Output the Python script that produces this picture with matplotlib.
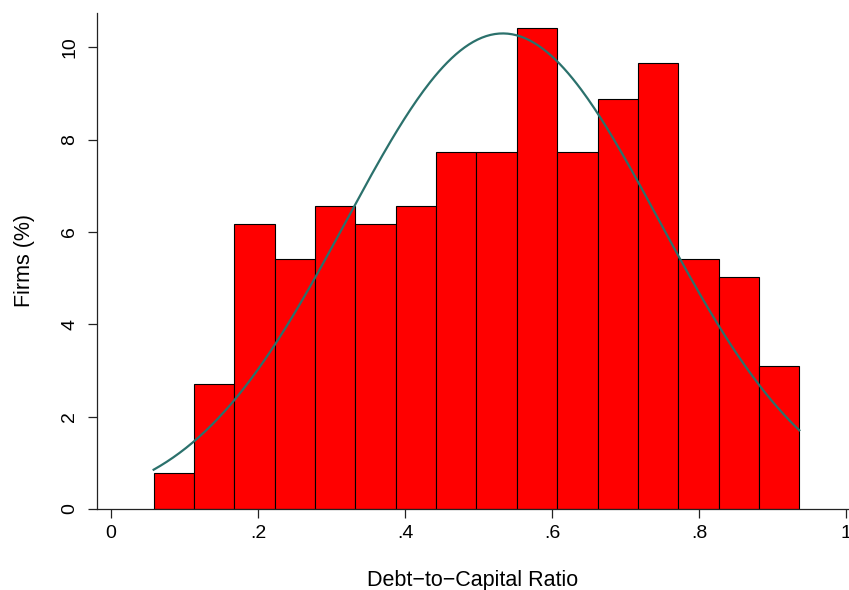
import numpy as np
import matplotlib
matplotlib.use('Agg')
import matplotlib.pyplot as plt

plt.rcParams['font.family'] = ['Liberation Sans', 'DejaVu Sans']

# histogram bins of the debt-to-capital ratio (percent of firms)
bin_start = 0.058
bin_width = 0.0549
firm_pct = [0.77, 2.70, 6.18, 5.41, 6.56, 6.18, 6.56, 7.72,
            7.72, 10.42, 7.72, 8.88, 9.65, 5.41, 5.02, 3.09]

# fitted normal overlay
ratio_mean = 0.533
ratio_sd = 0.2127

x_ticks = [0, 0.2, 0.4, 0.6, 0.8, 1.0]
x_ticklabels = ['0', '.2', '.4', '.6', '.8', '1']
y_ticks = [0, 2, 4, 6, 8, 10]

fig = plt.figure(figsize=(8.49, 5.90), dpi=100)
ax = fig.add_axes([0.1143, 0.1373, 0.8857, 0.8407])

edges = bin_start + bin_width * np.arange(len(firm_pct) + 1)
ax.bar(edges[:-1], firm_pct, width=bin_width, align='edge',
       color='#ff0000', edgecolor='black', linewidth=0.8)

xs = np.linspace(edges[0], edges[-1], 300)
dens = np.exp(-0.5 * ((xs - ratio_mean) / ratio_sd) ** 2) / (ratio_sd * np.sqrt(2 * np.pi))
ax.plot(xs, dens * bin_width * 100, color='#2b716c', linewidth=1.6)

ax.set_xlim(-0.019, 1.004)
ax.set_ylim(0, 10.74)
ax.set_xticks(x_ticks)
ax.set_xticklabels(x_ticklabels)
ax.set_yticks(y_ticks)
ax.set_yticklabels([str(v) for v in y_ticks], rotation=90, va='center')

for side in ('top', 'right'):
    ax.spines[side].set_visible(False)
for side in ('left', 'bottom'):
    ax.spines[side].set_color('#222222')
    ax.spines[side].set_linewidth(0.9)
ax.tick_params(axis='both', direction='out', length=6.5, width=0.9,
               color='#222222', labelsize=14)
ax.tick_params(axis='x', pad=5)
ax.tick_params(axis='y', pad=7)

ax.set_xlabel('Debt\u2212to\u2212Capital Ratio', fontsize=15.5, labelpad=20)
ax.set_ylabel('Firms (%)', fontsize=15.5, labelpad=19)

fig.savefig('out.png', dpi=100)
